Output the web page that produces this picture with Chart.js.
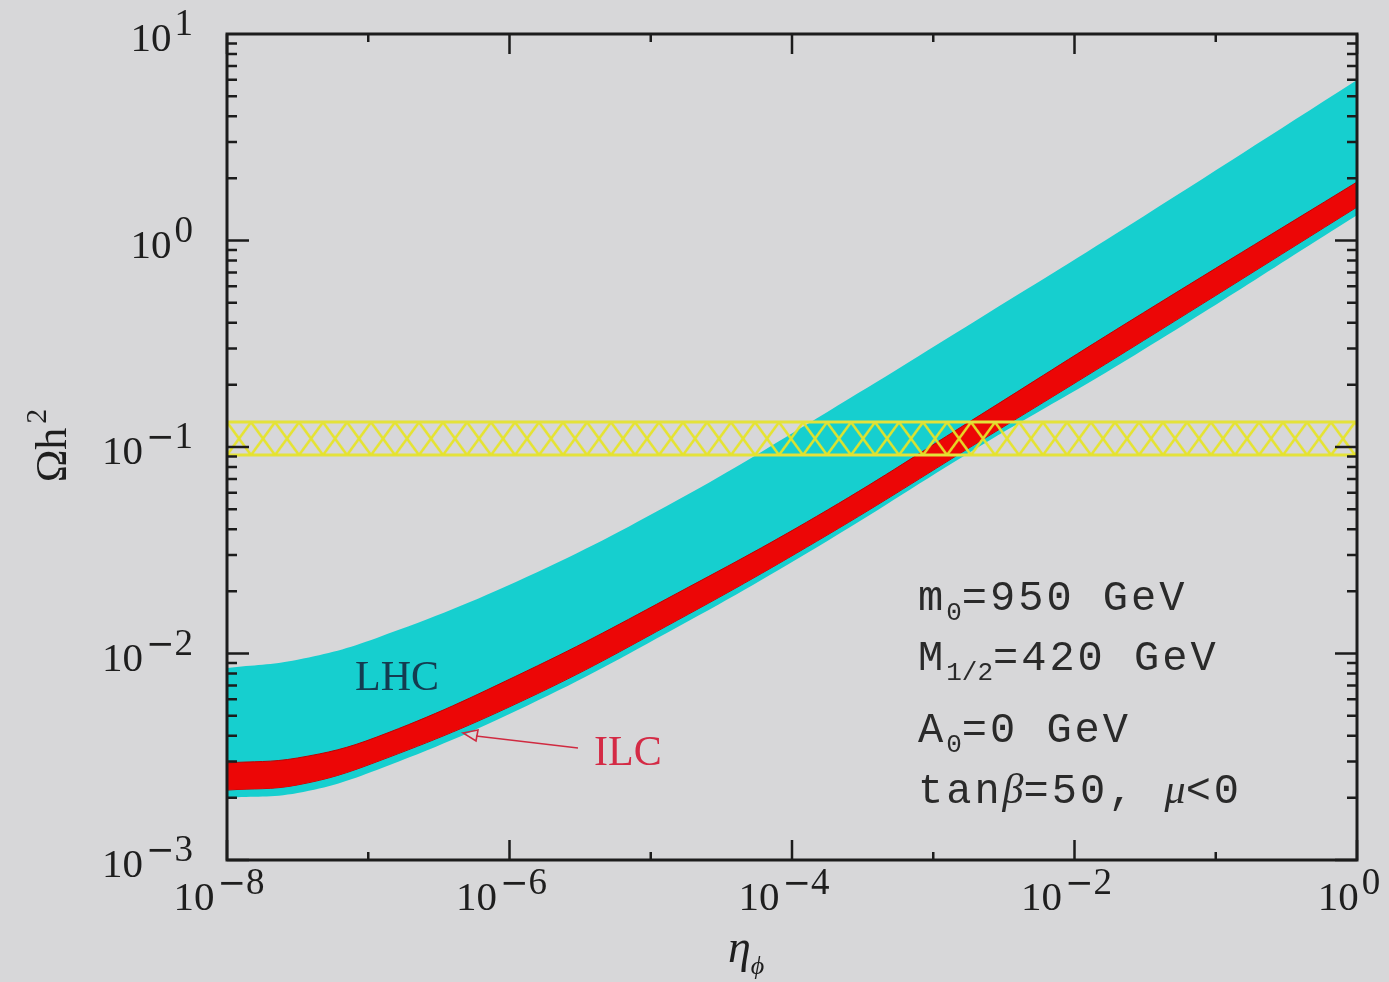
<!DOCTYPE html>
<html lang="en">
<head>
  <meta charset="UTF-8">
  <title>Omega h^2 vs eta_phi</title>
  <script src="https://cdn.jsdelivr.net/npm/chart.js"></script>
  <style>
    html, body {
      margin: 0;
      padding: 0;
      background-color: #d7d7d9;
    }
    #wrap {
      width: 1389px;
      height: 982px;
    }
  </style>
</head>
<body>
  <div id="wrap"><canvas id="chart" width="1389" height="982"></canvas></div>

  <script>
    // eta_phi sample points
    const eta = [1e-8, 3.16e-8, 1.15e-7, 1.32e-6, 1.55e-5, 1.78e-4, 2.04e-3, 2.34e-2, 1];

    // LHC band (cyan) edges
    const lhcHigh = [0.00851, 0.00933, 0.01189, 0.02344, 0.05534, 0.1479, 0.412, 1.161, 5.98];
    const lhcLow  = [0.00200, 0.00211, 0.00273, 0.00557, 0.01343, 0.0351, 0.0989, 0.2636, 1.327];

    // ILC band (red) edges
    const ilcHigh = [0.00295, 0.00312, 0.00394, 0.00822, 0.01963, 0.0495, 0.1396, 0.398, 1.919];
    const ilcLow  = [0.00218, 0.00231, 0.00299, 0.00603, 0.01452, 0.0375, 0.1045, 0.2917, 1.452];

    // WMAP band (yellow, hatched)
    const wmapEta = [1e-8, 1];
    const wmapHigh = [0.132, 0.132];
    const wmapLow = [0.0914, 0.0914];

    // tick labels (powers of ten)
    const xLabelExps = [-8, -6, -4, -2, 0];
    const yLabelExps = [-3, -2, -1, 0, 1];
    const xTickExps = [-8, -7, -6, -5, -4, -3, -2, -1, 0];

    function pts(xs, ys) {
      return xs.map((x, i) => ({ x: x, y: ys[i] }));
    }

    // crosshatch for the yellow band
    function makeHatch() {
      const c = document.createElement("canvas");
      c.width = 24;
      c.height = 33;
      const g = c.getContext("2d");
      g.strokeStyle = "rgba(230,228,40,0.95)";
      g.lineWidth = 2.5;
      g.beginPath();
      g.moveTo(0, 0); g.lineTo(24, 33);
      g.moveTo(24, 0); g.lineTo(0, 33);
      g.stroke();
      return g.createPattern(c, "repeat");
    }
    const hatch = makeHatch();

    // draws 10^exp ; y is the baseline of "10"
    function drawPow(ctx, exp, x, y, align) {
      const base = '41px "Liberation Serif"';
      const sup = '37px "Liberation Serif"';
      const minusFont = '34px "DejaVu Sans"';
      const digits = String(Math.abs(exp));
      ctx.font = base;
      const w10 = ctx.measureText("10").width;
      ctx.font = minusFont;
      const wm = exp < 0 ? ctx.measureText("\u2212").width : 0;
      ctx.font = sup;
      const wd = ctx.measureText(digits).width;
      const total = w10 + 3 + wm + wd;
      let x0 = align === "right" ? x - total : x - total / 2;
      ctx.textAlign = "left";
      ctx.textBaseline = "alphabetic";
      ctx.font = base;
      ctx.fillText("10", x0, y);
      x0 += w10 + 3;
      if (exp < 0) {
        ctx.font = minusFont;
        ctx.fillText("\u2212", x0, y - 16);
        x0 += wm;
      }
      ctx.font = sup;
      ctx.fillText(digits, x0, y - 16);
    }

    // text made of several runs [text, font, dy, spacing]
    function drawRuns(ctx, x, y, runs) {
      ctx.textAlign = "left";
      ctx.textBaseline = "alphabetic";
      for (const [t, font, dy, sp] of runs) {
        ctx.font = font;
        ctx.letterSpacing = sp || "0px";
        ctx.fillText(t, x, y + dy);
        x += ctx.measureText(t).width;
      }
      ctx.letterSpacing = "0px";
    }

    const framePlugin = {
      id: "frame",
      beforeDatasetsDraw(chart) {
        const top = chart.scales.y.getPixelForValue(wmapHigh[0]);
        hatch.setTransform(new DOMMatrix([1, 0, 0, 1, chart.chartArea.left, top]));
      },
      afterDraw(chart) {
        const ctx = chart.ctx;
        const a = chart.chartArea;
        const xs = chart.scales.x;
        const ys = chart.scales.y;
        ctx.save();

        // ticks, pointing inward on all four sides
        ctx.strokeStyle = "#1c1c1c";
        ctx.lineWidth = 2.5;
        ctx.beginPath();
        xTickExps.forEach((e) => {
          const px = xs.getPixelForValue(Math.pow(10, e));
          const len = e % 2 === 0 ? 20 : 8;
          ctx.moveTo(px, a.bottom); ctx.lineTo(px, a.bottom - len);
          ctx.moveTo(px, a.top); ctx.lineTo(px, a.top + len);
        });
        for (let d = -3; d <= 0; d++) {
          for (let m = 1; m <= 9; m++) {
            const py = ys.getPixelForValue(m * Math.pow(10, d));
            const len = m === 1 ? 22 : 10;
            ctx.moveTo(a.left, py); ctx.lineTo(a.left + len, py);
            ctx.moveTo(a.right, py); ctx.lineTo(a.right - len, py);
          }
        }
        ctx.stroke();

        // frame
        ctx.lineWidth = 3;
        ctx.strokeRect(a.left, a.top, a.right - a.left, a.bottom - a.top);

        // tick labels
        ctx.fillStyle = "#1e1e1e";
        yLabelExps.forEach((e) => {
          const py = ys.getPixelForValue(Math.pow(10, e));
          drawPow(ctx, e, 193, py + 17, "right");
        });
        xLabelExps.forEach((e) => {
          const px = xs.getPixelForValue(Math.pow(10, e));
          drawPow(ctx, e, px - 8, 910, "center");
        });

        // axis titles
        ctx.save();
        ctx.translate(66, 449);
        ctx.rotate(-Math.PI / 2);
        ctx.font = '44px "Liberation Serif"';
        const wOh = ctx.measureText("\u03A9h").width;
        ctx.textAlign = "left";
        ctx.textBaseline = "alphabetic";
        ctx.fillText("\u03A9h", -wOh / 2 - 6, 0);
        ctx.font = '30px "Liberation Serif"';
        ctx.fillText("2", wOh / 2 - 2, -20);
        ctx.restore();

        drawRuns(ctx, 728, 962, [
          ["\u03B7", 'italic 46px "Liberation Serif"', 0],
          ["\u03D5", 'italic 26px "Liberation Serif"', 12]
        ]);

        // band labels
        ctx.fillStyle = "#143c50";
        ctx.font = '42px "Liberation Serif"';
        ctx.textAlign = "left";
        ctx.fillText("LHC", 355, 690);

        ctx.fillStyle = "#d42a45";
        ctx.fillText("ILC", 594, 765);

        // arrow from ILC label to the red band
        ctx.strokeStyle = "#d02a40";
        ctx.lineWidth = 1.6;
        ctx.beginPath();
        ctx.moveTo(578, 748);
        ctx.lineTo(476, 736);
        ctx.stroke();
        ctx.beginPath();
        ctx.moveTo(463, 733);
        ctx.lineTo(478, 730);
        ctx.lineTo(476, 741);
        ctx.closePath();
        ctx.stroke();

        // parameter block
        ctx.fillStyle = "#2a2a2a";
        const mono = '42px "Liberation Mono"';
        const sub = '26px "Liberation Mono"';
        const greek = 'italic 42px "Liberation Serif"';
        drawRuns(ctx, 918, 610, [["m", mono, 0, "3px"], ["0", sub, 10], ["=950 GeV", mono, 0, "3px"]]);
        drawRuns(ctx, 918, 670, [["M", mono, 0, "3px"], ["1/2", sub, 10], ["=420 GeV", mono, 0, "3px"]]);
        drawRuns(ctx, 918, 742, [["A", mono, 0, "3px"], ["0", sub, 10], ["=0 GeV", mono, 0, "3px"]]);
        drawRuns(ctx, 918, 803, [["tan", mono, 0, "3px"], ["\u03B2", greek, 0], ["=50, ", mono, 0, "3px"],
          ["\u03BC", greek, 0], ["<0", mono, 0, "3px"]]);

        ctx.restore();
      }
    };

    const lineBase = {
      pointRadius: 0,
      tension: 0.4,
      borderWidth: 0,
      borderColor: "rgba(0,0,0,0)"
    };

    new Chart(document.getElementById("chart").getContext("2d"), {
      type: "line",
      data: {
        datasets: [
          Object.assign({}, lineBase, { label: "LHC high", data: pts(eta, lhcHigh), fill: "+1", backgroundColor: "#16cfcf", order: 3 }),
          Object.assign({}, lineBase, { label: "LHC low", data: pts(eta, lhcLow), fill: false, order: 3 }),
          Object.assign({}, lineBase, { label: "ILC high", data: pts(eta, ilcHigh), fill: "+1", backgroundColor: "#ec0606", borderWidth: 1, borderColor: "#c00000", order: 2 }),
          Object.assign({}, lineBase, { label: "ILC low", data: pts(eta, ilcLow), fill: false, borderWidth: 1, borderColor: "#c00000", order: 2 }),
          Object.assign({}, lineBase, { label: "WMAP high", data: pts(wmapEta, wmapHigh), fill: "+1", backgroundColor: hatch, borderWidth: 3, borderColor: "#e4e23a", order: 1, tension: 0 }),
          Object.assign({}, lineBase, { label: "WMAP low", data: pts(wmapEta, wmapLow), fill: false, borderWidth: 3, borderColor: "#e4e23a", order: 1, tension: 0 })
        ]
      },
      options: {
        responsive: false,
        animation: false,
        layout: { padding: { left: 227, top: 34, right: 32, bottom: 122 } },
        plugins: {
          legend: { display: false },
          tooltip: { enabled: false }
        },
        scales: {
          x: { type: "logarithmic", min: 1e-8, max: 1, display: false },
          y: { type: "logarithmic", min: 1e-3, max: 10, display: false }
        }
      },
      plugins: [framePlugin]
    });
  </script>
</body>
</html>
